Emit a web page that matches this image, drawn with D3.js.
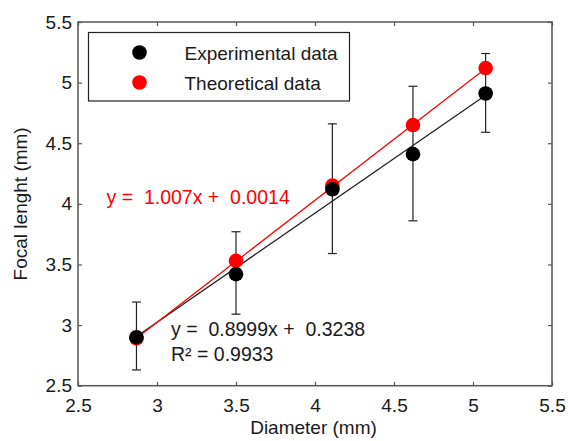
<!DOCTYPE html>
<html>
<head>
	<title>focal-length-vs-diameter</title>
	<script src="https://d3js.org/d3.v7.min.js"></script>
	<style>
		body { margin: 0; background: #fff; }
		text { font-family: "Liberation Sans", Arial, sans-serif; font-size: 19px; fill: #1a1a1a; }
		text.eq { font-size: 19.5px; }
	</style>
</head>
<body>
	<svg width="568" height="441"></svg>
	<script type="text/javascript">
		// values
		var diameter     = [2.87, 3.50, 4.11, 4.62, 5.08];
		var experimental = [2.90, 3.42, 4.12, 4.41, 4.91];
		var theoretical  = [2.89, 3.53, 4.15, 4.65, 5.12];
		var errLow       = [2.63, 3.09, 3.59, 3.86, 4.59];
		var errHigh      = [3.19, 3.77, 4.66, 4.97, 5.24];

		// fit lines: [slope, intercept]
		var fitExp = [0.8999, 0.3238];
		var fitTheo = [1.007, 0.0014];

		var xTicks = [2.5, 3, 3.5, 4, 4.5, 5, 5.5];
		var yTicks = [2.5, 3, 3.5, 4, 4.5, 5, 5.5];
		var seriesNames = ['Experimental data', 'Theoretical data'];
		var colors = ['#000', '#ff0000'];

		var m = { left: 78, right: 552, top: 22, bottom: 385.7 };
		var svg = d3.select('svg');

		var x = d3.scaleLinear().domain([2.5, 5.5]).range([m.left, m.right]);
		var y = d3.scaleLinear().domain([2.5, 5.5]).range([m.bottom, m.top]);
		var fmt = d => String(d);

		function styleAxis(g) {
			g.selectAll('.domain').remove();
			g.selectAll('.tick line').attr('stroke', '#555').attr('stroke-width', 1.2);
			g.selectAll('text').attr('fill', '#1a1a1a').attr('font-size', null).attr('font-family', null);
		}

		svg.append('g').attr('transform', 'translate(0,' + m.bottom + ')')
			.call(d3.axisBottom(x).tickValues(xTicks).tickFormat(fmt).tickSizeInner(-4).tickSizeOuter(0).tickPadding(13))
			.call(styleAxis);
		svg.append('g').attr('transform', 'translate(0,' + m.top + ')')
			.call(d3.axisTop(x).tickValues(xTicks).tickFormat('').tickSizeInner(-4).tickSizeOuter(0))
			.call(styleAxis);
		svg.append('g').attr('transform', 'translate(' + m.left + ',0)')
			.call(d3.axisLeft(y).tickValues(yTicks).tickFormat(fmt).tickSizeInner(-4).tickSizeOuter(0).tickPadding(6))
			.call(styleAxis);
		svg.append('g').attr('transform', 'translate(' + m.right + ',0)')
			.call(d3.axisRight(y).tickValues(yTicks).tickFormat('').tickSizeInner(-4).tickSizeOuter(0))
			.call(styleAxis);

		// plot box
		svg.append('rect')
			.attr('x', m.left).attr('y', m.top)
			.attr('width', m.right - m.left).attr('height', m.bottom - m.top)
			.attr('fill', 'none').attr('stroke', '#555').attr('stroke-width', 1.5);

		// fit lines over the data range
		var x0 = d3.min(diameter), x1 = d3.max(diameter);
		[fitExp, fitTheo].forEach(function (f, i) {
			svg.append('line')
				.attr('x1', x(x0)).attr('y1', y(f[0] * x0 + f[1]))
				.attr('x2', x(x1)).attr('y2', y(f[0] * x1 + f[1]))
				.attr('stroke', i ? '#ff0000' : '#222').attr('stroke-width', 1.3);
		});

		// error bars on experimental data
		var eb = svg.append('g').attr('stroke', '#222').attr('stroke-width', 1.2);
		diameter.forEach(function (d, i) {
			eb.append('line').attr('x1', x(d)).attr('x2', x(d)).attr('y1', y(errLow[i])).attr('y2', y(errHigh[i]));
			eb.append('line').attr('x1', x(d) - 4.5).attr('x2', x(d) + 4.5).attr('y1', y(errLow[i])).attr('y2', y(errLow[i]));
			eb.append('line').attr('x1', x(d) - 4.5).attr('x2', x(d) + 4.5).attr('y1', y(errHigh[i])).attr('y2', y(errHigh[i]));
		});

		// markers: theoretical underneath, experimental on top
		[[theoretical, colors[1]], [experimental, colors[0]]].forEach(function (s) {
			svg.append('g').selectAll('circle')
				.data(s[0])
				.enter().append('circle')
				.attr('cx', (d, i) => x(diameter[i]))
				.attr('cy', d => y(d))
				.attr('r', 7.3)
				.attr('fill', s[1]);
		});

		// equations
		svg.append('text').attr('class', 'eq').attr('x', 106.5).attr('y', 203.5)
			.attr('xml:space', 'preserve').style('white-space', 'pre').style('fill', '#ff0000')
			.text('y =  ' + fitTheo[0] + 'x +  ' + fitTheo[1]);
		svg.append('text').attr('class', 'eq').attr('x', 171).attr('y', 335.5)
			.attr('xml:space', 'preserve').style('white-space', 'pre')
			.text('y =  ' + fitExp[0] + 'x +  ' + fitExp[1]);
		svg.append('text').attr('class', 'eq').attr('x', 171).attr('y', 361)
			.text('R\u00b2 = 0.9933');

		// legend
		var lg = svg.append('g');
		lg.append('rect').attr('x', 88.5).attr('y', 32.5).attr('width', 261).attr('height', 68.5)
			.attr('fill', '#fff').attr('stroke', '#222').attr('stroke-width', 1.2);
		seriesNames.forEach(function (n, i) {
			lg.append('circle').attr('cx', 139.5).attr('cy', 52.5 + i * 30).attr('r', 7.3).attr('fill', colors[i]);
			lg.append('text').attr('x', 184.5).attr('y', 59.5 + i * 30).text(n);
		});

		// axis titles
		svg.append('text').attr('x', (m.left + m.right) / 2 - 1.5).attr('y', 433.5)
			.attr('text-anchor', 'middle').text('Diameter (mm)');
		svg.append('text').attr('transform', 'translate(27,' + ((m.top + m.bottom) / 2) + ') rotate(-90)')
			.attr('text-anchor', 'middle').text('Focal lenght (mm)');
	</script>
</body>
</html>
